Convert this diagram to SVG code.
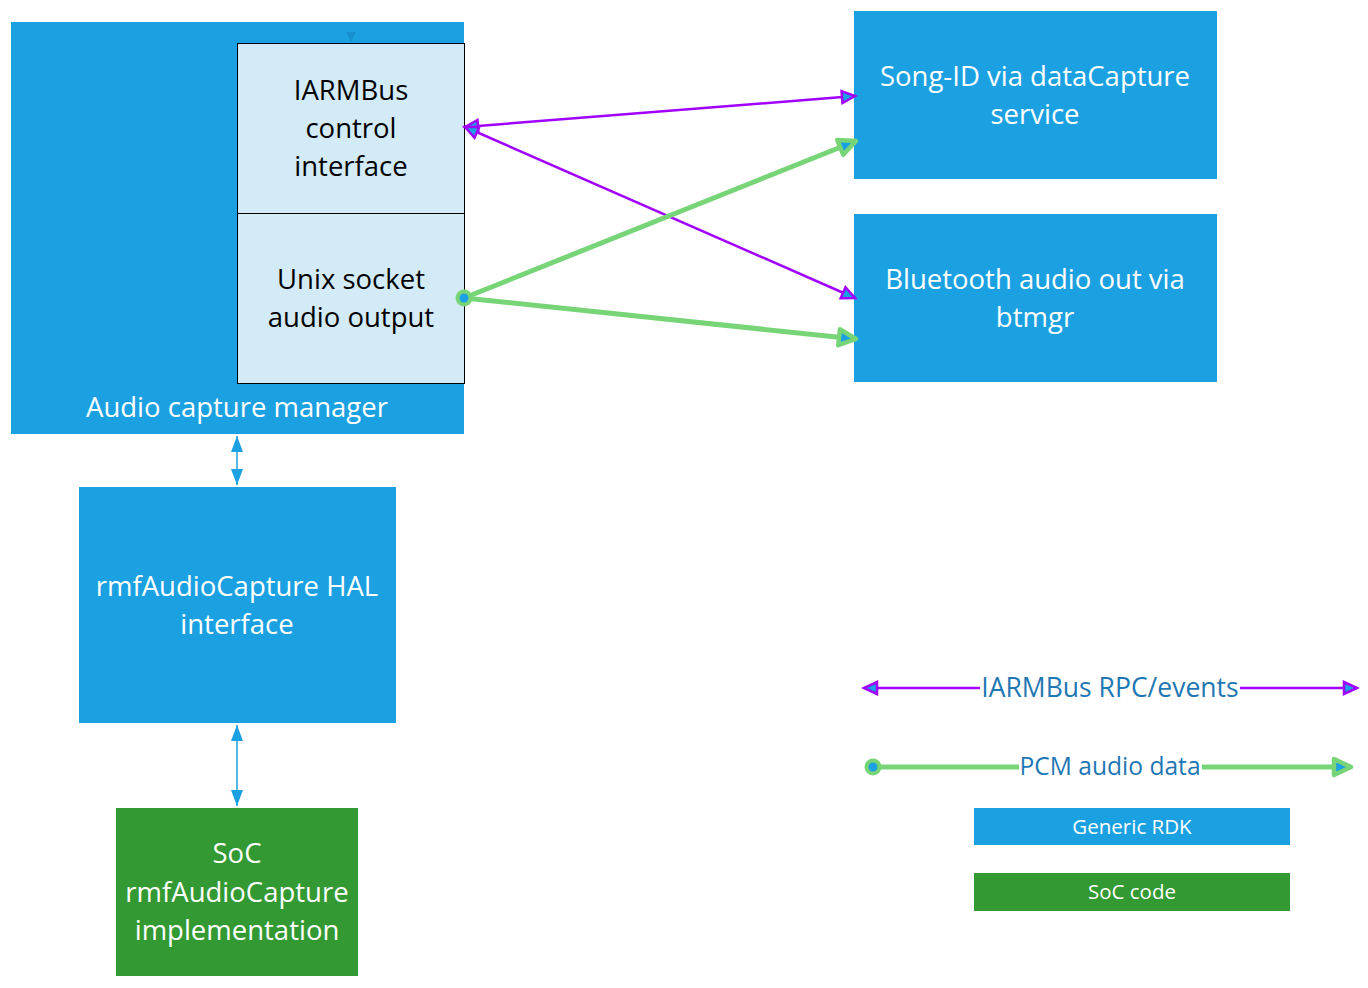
<svg xmlns="http://www.w3.org/2000/svg" width="1368" height="988" viewBox="0 0 1368 988">
<style>
.blue{fill:#1BA1E2}
.light{fill:#D2EBF7;stroke:#000;stroke-width:1}
.green{fill:#339933}
.t{font-family:"Open Sans","Noto Sans",sans-serif;font-size:27.5px;text-anchor:middle}
.w{fill:#fff}
.k{fill:#000}
.lg{font-family:"Open Sans","Noto Sans",sans-serif;font-size:26.5px;text-anchor:middle;fill:#1F78B4}
.sm{font-family:"Open Sans","Noto Sans",sans-serif;font-size:20.5px;text-anchor:middle;fill:#fff}
.pl{stroke:#A100FF;stroke-width:2.5;fill:none}
.gl{stroke:#77D577;stroke-width:5;fill:none}
.bl{stroke:#1BA1E2;stroke-width:1.5;fill:none}
</style>
<defs>
<marker id="pa" markerUnits="userSpaceOnUse" markerWidth="20" markerHeight="20" viewBox="0 0 20 20" refX="17" refY="10" orient="auto-start-reverse"><path d="M4,4 L17,10 L4,16 Z" fill="#1BA1E2" stroke="#A100FF" stroke-width="2.5"/></marker>
<marker id="ga" markerUnits="userSpaceOnUse" markerWidth="26" markerHeight="26" viewBox="0 0 26 26" refX="22" refY="13" orient="auto"><path d="M5,5 L22,13 L5,21 Z" fill="#1BA1E2" stroke="#77D577" stroke-width="4.5" stroke-linejoin="round"/></marker>
<marker id="ba" markerUnits="userSpaceOnUse" markerWidth="20" markerHeight="20" viewBox="0 0 20 20" refX="18" refY="10" orient="auto-start-reverse"><path d="M2,4 L18,10 L2,16 Z" fill="#1BA1E2"/></marker>
</defs>
<g id="audio-capture-manager">
<rect class="blue" x="11" y="22" width="453" height="412"/>
<text class="t w" x="237" y="417">Audio capture manager</text>
<path d="M346,32 L356,32 L351,42 Z" fill="#1A8FD0"/>
</g>
<g id="iarmbus-control">
<rect class="light" x="237.5" y="43.5" width="227" height="170"/>
<text class="t k" x="351" y="100">IARMBus</text>
<text class="t k" x="351" y="138">control</text>
<text class="t k" x="351" y="176">interface</text>
</g>
<g id="unix-socket">
<rect class="light" x="237.5" y="213.5" width="227" height="170"/>
<text class="t k" x="351" y="289">Unix socket</text>
<text class="t k" x="351" y="327">audio output</text>
</g>
<g id="song-id">
<rect class="blue" x="854" y="11" width="363" height="168"/>
<text class="t w" x="1035" y="86">Song-ID via dataCapture</text>
<text class="t w" x="1035" y="124">service</text>
</g>
<g id="bluetooth">
<rect class="blue" x="854" y="214" width="363" height="168"/>
<text class="t w" x="1035" y="289">Bluetooth audio out via</text>
<text class="t w" x="1035" y="327">btmgr</text>
</g>
<g id="hal">
<rect class="blue" x="79" y="487" width="317" height="236"/>
<text class="t w" x="237" y="596">rmfAudioCapture HAL</text>
<text class="t w" x="237" y="634">interface</text>
</g>
<g id="soc-impl">
<rect class="green" x="116" y="808" width="242" height="168"/>
<text class="t w" x="237" y="863">SoC</text>
<text class="t w" x="237" y="902">rmfAudioCapture</text>
<text class="t w" x="237" y="940">implementation</text>
</g>
<g id="legend">
<rect class="blue" x="974" y="808" width="316" height="37"/>
<text class="sm" x="1132" y="834">Generic RDK</text>
<rect class="green" x="974" y="873" width="316" height="38"/>
<text class="sm" x="1132" y="899">SoC code</text>
<line class="pl" x1="864" y1="688" x2="980" y2="688" marker-start="url(#pa)"/>
<line class="pl" x1="1240" y1="688" x2="1357" y2="688" marker-end="url(#pa)"/>
<text class="lg" x="1110" y="697">IARMBus RPC/events</text>
<line class="gl" x1="873" y1="767" x2="1019" y2="767"/>
<line class="gl" x1="1202" y1="767" x2="1351" y2="767" marker-end="url(#ga)"/>
<circle cx="873" cy="767" r="8.5" fill="#77D577"/>
<circle cx="873" cy="767" r="4.5" fill="#1BA1E2"/>
<text class="lg" x="1110" y="775" style="font-size:24.6px">PCM audio data</text>
</g>
<g id="connectors">
<line class="pl" x1="465" y1="127" x2="855" y2="96" marker-start="url(#pa)" marker-end="url(#pa)"/>
<line class="pl" x1="465" y1="127" x2="855" y2="298" marker-start="url(#pa)" marker-end="url(#pa)"/>
<line class="gl" x1="464" y1="298" x2="856" y2="141" marker-end="url(#ga)"/>
<line class="gl" x1="464" y1="298" x2="856" y2="339" marker-end="url(#ga)"/>
<circle cx="464" cy="298" r="8.5" fill="#77D577"/>
<circle cx="464" cy="298" r="4.5" fill="#1BA1E2"/>
<line class="bl" x1="237" y1="436" x2="237" y2="485" marker-start="url(#ba)" marker-end="url(#ba)"/>
<line class="bl" x1="237" y1="725" x2="237" y2="806" marker-start="url(#ba)" marker-end="url(#ba)"/>
</g>
</svg>
